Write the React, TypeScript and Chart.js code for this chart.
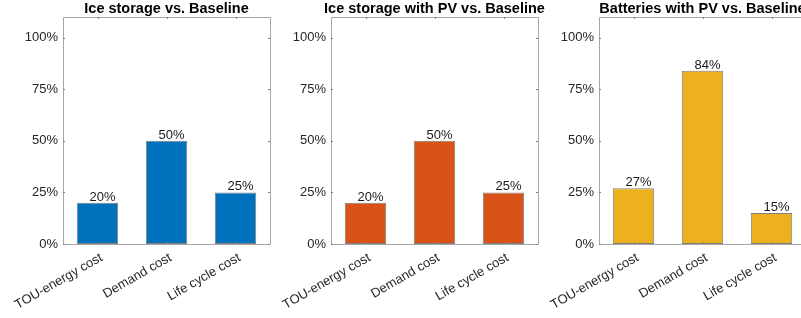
import React, { useEffect, useRef } from "react";
import { Chart, registerables } from "chart.js";

Chart.register(...registerables);

const categories = ["TOU-energy cost", "Demand cost", "Life cycle cost"];
const titles = [
  "Ice storage vs. Baseline",
  "Ice storage with PV vs. Baseline",
  "Batteries with PV vs. Baseline",
];
const iceValues = [20, 50, 25];
const icePvValues = [20, 50, 25];
const batteryPvValues = [27, 84, 15];
const yTickValues = [0, 25, 50, 75, 100];
const yMax = 110;
const colors = ["#0072BD", "#D95319", "#EDB120"];
const seriesList = [iceValues, icePvValues, batteryPvValues];

const FONT = "'Liberation Sans', Arial, Helvetica, sans-serif";
const AXIS_W = 63;
const PLOT_W = 207;
const TITLE_H = 17;
const PANEL_LEFTS = [63, 331, 599];

const boxPlugin = {
  id: "matlabBox",
  afterDatasetsDraw(chart: any, _args: any, opts: any) {
    const { ctx, chartArea } = chart;
    const { left, right, top, bottom } = chartArea;
    const xs = chart.scales.x;
    const ys = chart.scales.y;
    ctx.save();
    ctx.strokeStyle = "#a6a6a6";
    ctx.lineWidth = 1;
    ctx.beginPath();
    ctx.rect(Math.round(left) + 0.5, Math.round(top) + 0.5, Math.round(right - left), Math.round(bottom - top));
    ctx.stroke();
    // inner ticks
    ctx.strokeStyle = "#7f7f7f";
    ctx.beginPath();
    ys.ticks.forEach((t: any) => {
      const y = Math.round(ys.getPixelForValue(t.value)) + 0.5;
      ctx.moveTo(left, y);
      ctx.lineTo(left + 2, y);
      ctx.moveTo(right, y);
      ctx.lineTo(right - 2, y);
    });
    categories.forEach((_, i) => {
      const x = Math.round(xs.getPixelForValue(i)) + 0.5;
      ctx.moveTo(x, bottom);
      ctx.lineTo(x, bottom - 2);
      ctx.moveTo(x, top);
      ctx.lineTo(x, top + 2);
    });
    ctx.stroke();
    // value labels
    ctx.fillStyle = "#1a1a1a";
    ctx.font = `13px ${FONT}`;
    ctx.textAlign = "center";
    ctx.textBaseline = "alphabetic";
    const meta = chart.getDatasetMeta(0);
    const data = chart.data.datasets[0].data;
    meta.data.forEach((bar: any, i: number) => {
      ctx.fillText(`${data[i]}%`, bar.x + 5, bar.y - 2);
    });
    // title centred over the plot box
    ctx.fillStyle = "#000";
    ctx.font = `bold 14.5px ${FONT}`;
    ctx.textAlign = "center";
    ctx.textBaseline = "middle";
    ctx.fillText(opts.text, (left + right) / 2, 8.5);
    ctx.restore();
  },
};

function Panel({ index }: { index: number }) {
  const ref = useRef<HTMLCanvasElement>(null);
  useEffect(() => {
    const canvas = ref.current!;
    const chart = new Chart(canvas, {
      type: "bar",
      data: {
        labels: categories,
        datasets: [
          {
            data: seriesList[index],
            backgroundColor: colors[index],
            borderColor: "rgba(0,0,0,0.5)",
            borderWidth: 1,
            borderSkipped: false,
            barPercentage: 0.6,
            categoryPercentage: 1,
          },
        ],
      },
      options: {
        animation: false,
        responsive: false,
        devicePixelRatio: 1,
        layout: { padding: { left: 0, right: AXIS_W, top: TITLE_H, bottom: 0 } },
        plugins: {
          legend: { display: false },
          tooltip: { enabled: false },
          title: { display: false },
          matlabBox: { text: titles[index] },
        } as any,
        scales: {
          x: {
            offset: true,
            grid: { display: false, drawTicks: false },
            border: { display: false },
            ticks: {
              color: "#262626",
              font: { family: FONT, size: 13 },
              minRotation: 30,
              maxRotation: 30,
              padding: 6,
              labelOffset: 4,
              autoSkip: false,
            },
            afterFit: (s: any) => {
              s.height = 74;
              s.paddingLeft = 0;
              s.paddingRight = 0;
            },
          },
          y: {
            min: 0,
            max: yMax,
            grid: { display: false, drawTicks: false },
            border: { display: false },
            afterBuildTicks: (s: any) => {
              s.ticks = yTickValues.map((v) => ({ value: v }));
            },
            ticks: {
              color: "#262626",
              font: { family: FONT, size: 13 },
              padding: 5,
              callback: (v: any) => `${v}%`,
            },
            afterFit: (s: any) => {
              s.width = AXIS_W;
              s.paddingTop = 0;
              s.paddingBottom = 0;
            },
          },
        },
      },
      plugins: [boxPlugin],
    });
    return () => chart.destroy();
  }, [index]);
  const left = PANEL_LEFTS[index] - AXIS_W;
  return (
    <canvas
      ref={ref}
      width={AXIS_W * 2 + PLOT_W}
      height={318}
      style={{ position: "absolute", left, top: 0, width: AXIS_W * 2 + PLOT_W, height: 318 }}
    />
  );
}

export default function App() {
  return (
    <div
      style={{
        position: "absolute",
        left: 0,
        top: 0,
        width: 801,
        height: 318,
        overflow: "hidden",
        background: "#fff",
      }}
    >
      <Panel index={0} />
      <Panel index={1} />
      <Panel index={2} />
    </div>
  );
}
